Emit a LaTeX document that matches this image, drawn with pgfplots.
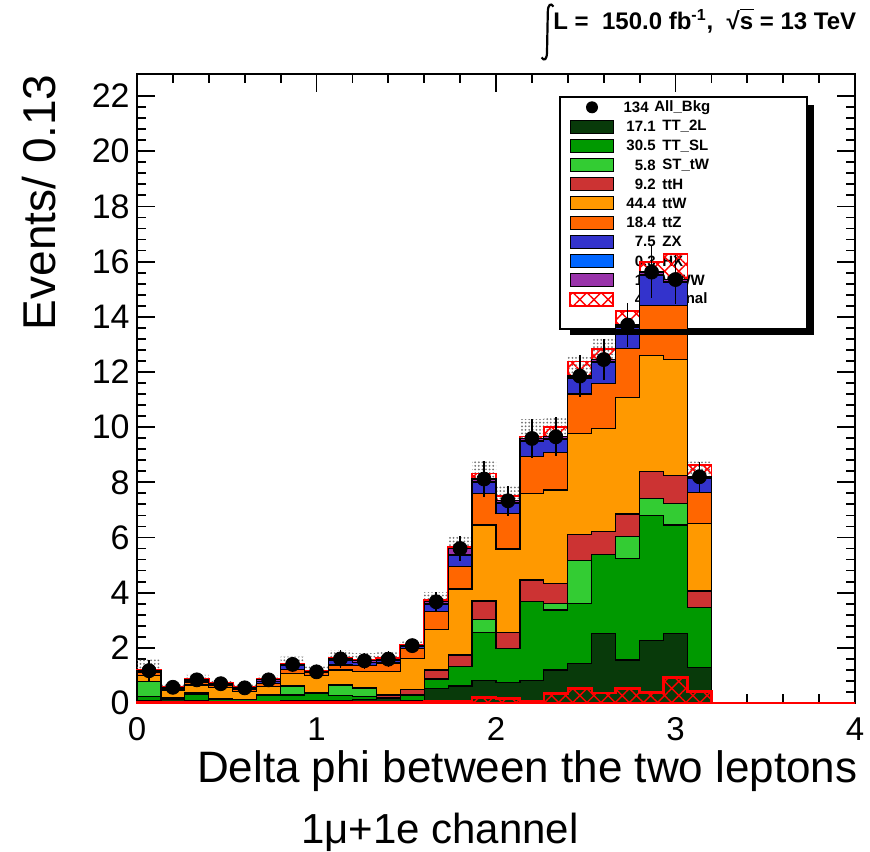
\documentclass[border=0pt]{standalone}
\usepackage{pgfplots}
\pgfplotsset{compat=1.18}
\usepackage{pgfplotstable}
\usepgfplotslibrary{fillbetween}
\usetikzlibrary{patterns,patterns.meta}
\usepackage{fontspec}
\setmainfont{Liberation Sans}

\definecolor{ctt2l}{RGB}{8,58,10}
\definecolor{cttsl}{RGB}{0,153,0}
\definecolor{csttw}{RGB}{51,204,51}
\definecolor{ctth}{RGB}{204,51,51}
\definecolor{cttw}{RGB}{255,153,0}
\definecolor{cttz}{RGB}{255,102,0}
\definecolor{czx}{RGB}{51,51,204}
\definecolor{chx}{RGB}{0,102,255}
\definecolor{cwww}{RGB}{153,51,170}

% cumulative stack tops (bin left edges), band low/high
\pgfplotstableread{
x      c1   c2   c3   c4   c5    c6    c7    c8    c9    c10   lo    hi
0.0000 0.08 0.23 0.77 0.77 1.00  1.12  1.14  1.15  1.17  1.20  0.77  1.57
0.1333 0.12 0.18 0.18 0.20 0.47  0.53  0.55  0.56  0.57  0.60  0.45  0.69
0.2667 0.08 0.33 0.33 0.36 0.65  0.76  0.80  0.81  0.84  0.87  0.66  1.02
0.4000 0.06 0.13 0.13 0.15 0.56  0.64  0.66  0.67  0.70  0.73  0.55  0.85
0.5333 0.05 0.12 0.12 0.13 0.42  0.50  0.52  0.53  0.55  0.58  0.41  0.69
0.6667 0.06 0.29 0.29 0.31 0.60  0.70  0.78  0.79  0.84  0.87  0.68  1.00
0.8000 0.10 0.29 0.62 0.64 1.07  1.22  1.36  1.37  1.40  1.43  1.12  1.68
0.9333 0.08 0.35 0.35 0.37 1.01  1.10  1.12  1.12  1.13  1.16  0.88  1.38
1.0667 0.10 0.28 0.65 0.67 1.20  1.38  1.55  1.56  1.60  1.63  1.28  1.92
1.2000 0.13 0.25 0.53 0.55 1.13  1.37  1.47  1.48  1.53  1.56  1.25  1.81
1.3333 0.15 0.20 0.20 0.29 1.13  1.45  1.53  1.54  1.59  1.62  1.31  1.87
1.4667 0.08 0.29 0.29 0.50 1.62  1.98  2.05  2.06  2.08  2.11  1.88  2.28
1.6000 0.53 0.87 0.87 1.20 2.67  3.31  3.58  3.60  3.67  3.72  3.32  4.02
1.7333 0.62 1.32 1.32 1.74 4.13  4.96  5.35  5.38  5.60  5.65  5.15  6.05
1.8667 0.81 2.55 3.03 3.70 6.45  7.60  8.00  8.03  8.12  8.32  7.47  8.77
2.0000 0.74 1.98 1.98 2.56 5.58  6.87  7.25  7.28  7.33  7.50  6.78  7.88
2.1333 0.83 3.67 3.67 4.46 7.60  8.95  9.50  9.52  9.59  9.66  8.89  10.29
2.2667 1.20 3.37 3.61 4.34 7.72  9.07  9.55  9.58  9.65  10.00 8.95  10.35
2.4000 1.44 3.61 5.18 6.10 9.77  11.20 11.75 11.78 11.85 12.38 11.10 12.60
2.5333 2.52 5.38 5.38 6.21 9.95  11.58 12.35 12.38 12.45 12.82 11.70 13.20
2.6667 1.56 5.24 6.03 6.85 11.07 12.85 13.60 13.63 13.70 14.22 12.90 14.50
2.8000 2.28 6.81 7.42 8.38 12.61 14.40 15.50 15.53 15.62 16.00 14.67 16.57
2.9333 2.52 6.45 7.23 8.26 12.46 14.40 15.25 15.28 15.35 16.27 14.45 16.25
3.0667 1.29 3.47 3.47 4.06 6.51  7.63  8.13  8.16  8.20  8.62  7.65  8.75
3.2000 1.29 3.47 3.47 4.06 6.51  7.63  8.13  8.16  8.20  8.62  7.65  8.75
}\stk

% standalone signal histogram (bin left edges, 0..4)
\pgfplotstableread{
x      s
0.0000 0.03
0.1333 0.03
0.2667 0.03
0.4000 0.03
0.5333 0.03
0.6667 0.03
0.8000 0.03
0.9333 0.03
1.0667 0.03
1.2000 0.03
1.3333 0.03
1.4667 0.03
1.6000 0.05
1.7333 0.05
1.8667 0.20
2.0000 0.17
2.1333 0.07
2.2667 0.35
2.4000 0.53
2.5333 0.37
2.6667 0.52
2.8000 0.38
2.9333 0.92
3.0667 0.42
3.2000 0.00
3.3333 0.00
3.4667 0.00
3.6000 0.00
3.7333 0.00
3.8667 0.00
4.0000 0.00
}\sig

% All_Bkg points (bin centres)
\pgfplotstableread{
x      y     e
0.0667 1.17  0.40
0.2000 0.57  0.12
0.3333 0.84  0.18
0.4667 0.70  0.15
0.6000 0.55  0.14
0.7333 0.84  0.16
0.8667 1.40  0.28
1.0000 1.13  0.25
1.1333 1.60  0.32
1.2667 1.53  0.28
1.4000 1.59  0.28
1.5333 2.08  0.20
1.6667 3.67  0.35
1.8000 5.60  0.45
1.9333 8.12  0.65
2.0667 7.33  0.55
2.2000 9.59  0.70
2.3333 9.65  0.70
2.4667 11.85 0.75
2.6000 12.45 0.75
2.7333 13.70 0.80
2.8667 15.62 0.95
3.0000 15.35 0.90
3.1333 8.20  0.55
}\dat

\tikzset{sighatch/.style={pattern={Hatch[angle=45,distance=5pt,line width=0.7pt]}, pattern color=red}}

\begin{document}
\begin{tikzpicture}
% legend (drawn first, the histogram is drawn over it)
\draw[fill=white, line width=0.6pt] (211.5pt,187pt) rectangle (335pt,303pt);
\fill[black] (227.5pt,297.85pt) circle (3pt);
\node[anchor=east, inner sep=0pt, font=\fontsize{7.5}{9}\selectfont\bfseries] at (256pt,297.85pt) {134};
\node[anchor=west, inner sep=0pt, font=\fontsize{7.5}{9}\selectfont\bfseries] at (258.5pt,297.85pt) {All\_Bkg};
\foreach \k/\c/\n/\m in {1/ctt2l/17.1/TT\_2L, 2/cttsl/30.5/TT\_SL, 3/csttw/5.8/ST\_tW, 4/ctth/9.2/ttH, 5/cttw/44.4/ttW, 6/cttz/18.4/ttZ, 7/czx/7.5/ZX, 8/chx/0.3/HX, 9/cwww/1.3/WWW}{
  \draw[fill=\c, line width=0.4pt] (216.5pt,{(297.85-9.6*\k-3.25)*1pt}) rectangle (238pt,{(297.85-9.6*\k+3.25)*1pt});
  \node[anchor=east, inner sep=0pt, font=\fontsize{7.5}{9}\selectfont\bfseries] at (259.5pt,{(297.85-9.6*\k)*1pt}) {\n};
  \node[anchor=west, inner sep=0pt, font=\fontsize{7.5}{9}\selectfont\bfseries] at (262.5pt,{(297.85-9.6*\k)*1pt}) {\m};
}
\draw[sighatch, draw=red, line width=1pt] (216.5pt,{(297.85-96-3.25)*1pt}) rectangle (238pt,{(297.85-96+3.25)*1pt});
\node[anchor=east, inner sep=0pt, font=\fontsize{7.5}{9}\selectfont\bfseries] at (259.5pt,{(297.85-96)*1pt}) {4.2};
\node[anchor=west, inner sep=0pt, font=\fontsize{7.5}{9}\selectfont\bfseries] at (262.5pt,{(297.85-96)*1pt}) {Signal};

\begin{axis}[
  at={(0pt,0pt)}, anchor=south west,
  scale only axis, width=359pt, height=314.5pt,
  xmin=0, xmax=4, ymin=0, ymax=22.8,
  xtick={0,1,2,3,4}, minor x tick num=4,
  ytick={0,2,4,6,8,10,12,14,16,18,20,22}, minor y tick num=4,
  xtick pos=both, ytick pos=both,
  tick align=inside,
  major tick length=9pt, minor tick length=4.5pt,
  every tick/.style={black, line width=0.9pt},
  axis line style={line width=1pt},
  /pgf/number format/assume math mode=true,
  yticklabel style={font=\fontsize{17}{17}\selectfont, inner sep=1pt, xshift=-2.5pt},
  xticklabel style={font=\fontsize{16.5}{16.5}\selectfont, inner sep=1pt, yshift=-6pt},
  xlabel={Delta phi between the two leptons},
  xlabel style={at={(axis description cs:1.004,-0.127)}, anchor=base east, inner sep=0pt, font=\fontsize{22}{22}\selectfont},
  ylabel={Events/ 0.13},
  ylabel style={at={(axis description cs:-0.160,1)}, anchor=north east, inner sep=0pt, font=\fontsize{23}{23}\selectfont},
  clip=false,
]
% stacked backgrounds: cumulative tops, drawn from the top down
\addplot[const plot mark left, draw=red, line width=0.9pt, sighatch] table[x=x,y=c10]{\stk} \closedcycle;
\addplot[const plot mark left, draw=black, line width=0.6pt, fill=cwww] table[x=x,y=c9]{\stk} \closedcycle;
\addplot[const plot mark left, draw=black, line width=0.6pt, fill=chx] table[x=x,y=c8]{\stk} \closedcycle;
\addplot[const plot mark left, draw=black, line width=0.6pt, fill=czx] table[x=x,y=c7]{\stk} \closedcycle;
\addplot[const plot mark left, draw=black, line width=0.6pt, fill=cttz] table[x=x,y=c6]{\stk} \closedcycle;
\addplot[const plot mark left, draw=black, line width=0.6pt, fill=cttw] table[x=x,y=c5]{\stk} \closedcycle;
\addplot[const plot mark left, draw=black, line width=0.6pt, fill=ctth] table[x=x,y=c4]{\stk} \closedcycle;
\addplot[const plot mark left, draw=black, line width=0.6pt, fill=csttw] table[x=x,y=c3]{\stk} \closedcycle;
\addplot[const plot mark left, draw=black, line width=0.6pt, fill=cttsl] table[x=x,y=c2]{\stk} \closedcycle;
\addplot[const plot mark left, draw=black, line width=0.6pt, fill=ctt2l] table[x=x,y=c1]{\stk} \closedcycle;
% uncertainty band
\addplot[const plot mark left, draw=none, name path=hi] table[x=x,y=hi]{\stk};
\addplot[const plot mark left, draw=none, name path=lo] table[x=x,y=lo]{\stk};
\addplot[pattern={Dots[distance=1.8pt,radius=0.5pt]}, pattern color=black!55] fill between[of=hi and lo];
% standalone signal
\addplot[const plot mark left, draw=red, line width=1.2pt, sighatch] table[x=x,y=s]{\sig} \closedcycle;
% All_Bkg points
\addplot[only marks, mark=*, mark size=3.5pt, black,
  error bars/.cd, y dir=both, y explicit, error mark=none,
  error bar style={line width=0.8pt, black}]
  table[x=x,y=y,y error=e]{\dat};

\node[anchor=base west, inner sep=0pt, font=\fontsize{21}{21}\selectfont] at (axis description cs:0.228,-0.2226) {1μ+1e channel};
\node[anchor=base west, inner sep=0pt, font=\fontsize{12}{12}\selectfont\bfseries] at (axis description cs:0.5794,1.0715)
  {L =\ \ 150.0 fb\textsuperscript{-1},\ \ √\rlap{\rule[9.3pt]{6.9pt}{0.7pt}}s = 13 TeV};
\end{axis}

% integral sign of the luminosity label
\draw[line width=1.1pt] (208.2pt,348.2pt) .. controls (207pt,350.3pt) and (205.4pt,349.2pt) .. (205.4pt,345.5pt)
  -- (205.0pt,325.5pt) .. controls (205pt,321.6pt) and (203.5pt,320.8pt) .. (202.3pt,322.8pt);
% legend shadow (on top of the histogram)
\fill[black] (335pt,184pt) rectangle (338.5pt,299pt);
\fill[black] (216.5pt,184pt) rectangle (338.5pt,187pt);
% page extent
\path (-68.5pt,-73pt) rectangle (366.5pt,351.5pt);
\end{tikzpicture}
\end{document}
